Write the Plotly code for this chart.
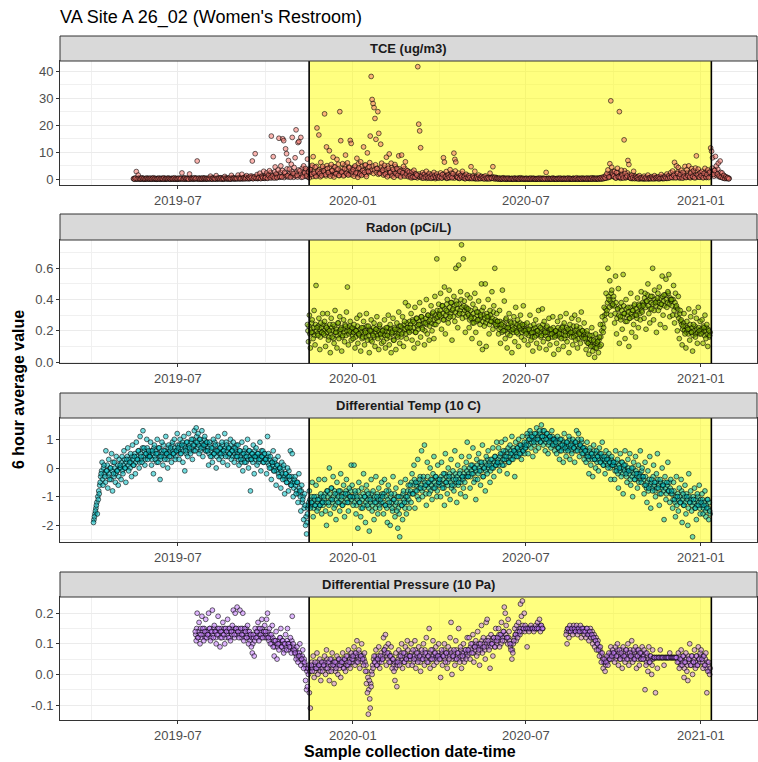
import pandas as pd
import plotly.graph_objects as go

# ---------------- data ----------------
title_text = "VA Site A 26_02 (Women's Restroom)"
panel_titles = ["TCE (ug/m3)", "Radon (pCi/L)", "Differential Temp (10 C)",
                "Differential Pressure (10 Pa)"]
x_tick_vals = ["2019-07-01", "2020-01-01", "2020-07-01", "2021-01-01"]
x_tick_text = ["2019-07", "2020-01", "2020-07", "2021-01"]
x_minor_vals = ["2019-04-01", "2019-10-01", "2020-04-01", "2020-10-01"]
shade_start = "2019-11-16"
shade_end = "2021-01-12"

# TCE, two readings per day from 2019-05-15 (morning / evening)
tce_start = "2019-05-15"
tce_am = [
    0.3, 0.1, 0.5, 2.9, 0.2, 1.6, 0.4, 0.1, 0.3, 0.6, 0.2, 0.4, 0.1, 0.3, 0.5, 0.2, 0.4,
    0.2, 0.5, 0.1, 0.3, 0.6, 0.2, 0.4, 0.1, 0.3, 0.2, 0.5, 0.1, 0.4, 0.3, 0.2, 0.6, 0.1, 0.3, 0.4, 0.2,
    0.5, 0.3, 0.1, 0.4, 0.2, 0.3, 0.6, 0.1, 0.4, 0.2,
    0.3, 0.5, 0.2, 0.4, 2.4, 0.1, 0.3, 0.6, 0.2, 0.4, 0.3, 0.1, 2.0, 0.5, 0.2, 0.4, 0.3, 0.6, 0.2, 0.4,
    6.8, 0.3, 0.5, 0.1, 0.4, 0.2, 0.6, 0.3, 0.5, 0.2, 0.4,
    0.2, 0.5, 0.3, 1.2, 0.4, 0.1, 0.6, 0.3, 0.2, 1.4, 0.4, 0.3, 0.5, 0.2, 0.6, 0.1, 0.4, 0.3, 1.1, 0.5,
    0.2, 0.4, 0.3, 0.6, 0.2, 1.5, 0.4, 0.3, 0.5, 0.2, 0.4,
    0.3, 1.6, 0.5, 0.2, 0.4, 1.9, 0.3, 0.6, 0.2, 0.5, 1.4, 0.3, 0.8, 0.4, 1.2, 0.6, 6.8, 0.3, 0.9, 9.5,
    0.5, 1.8, 0.4, 0.7, 2.3, 0.3, 1.1, 0.6, 3.0, 0.5,
    0.8, 2.4, 0.4, 1.5, 3.2, 0.6, 16.0, 1.2, 8.4, 0.5, 4.6, 2.0, 0.7, 3.5, 15.2, 1.1, 5.0, 0.9, 15.0, 14.3,
    2.6, 11.3, 9.5, 1.4, 7.0, 3.8, 0.8, 5.6, 15.5, 2.2, 4.4,
    8.0, 18.3, 1.5, 13.6, 14.0, 3.2, 15.5, 10.0, 0.9, 5.0, 2.4, 4.0, 1.3, 7.5, 2.8, 0.6, 3.6, 1.9, 5.2, 8.4,
    2.3, 4.5, 1.1, 19.0, 3.0, 16.4, 2.2, 6.3, 1.4, 4.8,
    3.1, 24.2, 1.8, 12.0, 4.0, 2.5, 10.6, 1.2, 5.5, 3.3, 8.2, 0.9, 4.6, 2.1, 7.4, 3.8, 1.5, 25.0, 14.3, 2.7,
    5.8, 1.3, 3.9, 9.0, 2.2, 6.1, 1.6, 4.3, 14.4, 13.3, 2.8,
    3.6, 1.2, 5.0, 2.4, 7.8, 0.8, 4.2, 2.0, 6.5, 1.5, 3.3, 12.0, 2.6, 5.4, 1.1, 9.8, 3.0, 4.7, 16.0, 38.0,
    29.5, 28.0, 26.5, 22.5, 14.8, 4.0, 25.0, 17.0, 2.2, 13.0, 6.0,
    3.4, 1.6, 5.2, 2.0, 8.2, 1.0, 4.1, 9.4, 2.5, 6.0, 1.3, 3.7, 0.8, 5.5, 2.2, 4.0, 1.5, 8.7, 3.0, 0.9,
    9.0, 2.4, 4.8, 1.2, 6.5, 2.0, 3.2, 1.0, 2.7,
    1.5, 0.6, 2.8, 1.0, 3.4, 0.8, 2.1, 1.6, 41.6, 20.4, 17.9, 11.7, 1.2, 2.5, 0.5, 1.9, 0.9, 3.0, 1.3, 0.6,
    2.2, 1.1, 0.4, 1.8, 0.8, 2.6, 1.4, 0.7, 2.0, 1.0, 0.5,
    1.2, 2.4, 0.6, 1.8, 8.0, 6.4, 1.0, 2.9, 0.5, 1.6, 0.8, 3.6, 1.3, 0.6, 2.1, 9.7, 7.4, 6.4, 1.1, 0.7,
    2.3, 0.4, 1.5, 0.9, 3.0, 0.6, 1.2, 0.3, 1.9, 0.8,
    0.5, 1.4, 0.7, 4.7, 0.3, 1.2, 0.6, 3.0, 0.4, 0.9, 0.2, 1.6, 0.5, 0.3, 1.1, 0.4, 0.8, 0.2, 1.3, 0.5,
    0.3, 0.7, 0.2, 2.3, 0.6, 0.4, 4.7, 0.3, 0.8, 0.2, 0.5,
    0.3, 0.2, 0.5, 0.1, 0.4, 0.2, 0.6, 0.3, 0.1, 0.4, 0.2, 0.5, 0.3, 0.1, 0.2, 0.4, 0.3, 0.1, 0.5, 0.2,
    0.3, 0.4, 0.1, 0.2, 0.6, 0.3, 0.2, 0.4, 0.1, 0.3,
    0.2, 0.4, 0.1, 0.3, 0.2, 0.5, 0.1, 0.3, 0.4, 0.2, 0.1, 0.3, 0.2, 0.4, 0.1, 0.5, 0.2, 0.3, 0.1, 0.4,
    0.2, 2.6, 0.3, 0.1, 0.4, 0.2, 0.3, 0.1, 0.5, 0.2, 0.3,
    0.2, 0.1, 0.4, 0.3, 0.2, 0.5, 0.1, 0.3, 0.2, 0.4, 0.1, 0.3, 0.2, 0.5, 0.1, 0.4, 0.3, 0.2, 0.1, 0.4,
    0.2, 0.3, 0.6, 0.1, 0.2, 0.4, 0.3, 0.1, 0.5, 0.2, 0.4,
    0.3, 0.2, 0.5, 0.1, 0.4, 0.3, 0.2, 0.6, 0.1, 0.4, 0.3, 0.2, 0.5, 0.3, 0.1, 0.4, 0.6, 0.2, 0.8, 0.3,
    1.0, 0.5, 1.6, 2.2, 3.5, 0.9, 5.8, 29.0, 4.5, 2.0,
    1.2, 3.0, 0.6, 2.5, 4.1, 1.0, 25.0, 0.8, 3.4, 1.5, 0.5, 14.6, 2.2, 0.7, 1.3, 7.0, 5.5, 0.9, 0.4, 1.6,
    0.6, 3.0, 0.3, 1.1, 0.5, 0.8, 0.2, 1.4, 0.4, 0.7, 0.3,
    0.5, 1.2, 0.3, 0.8, 0.2, 1.6, 0.4, 0.6, 0.3, 1.0, 0.5, 0.2, 1.4, 0.4, 0.7, 0.3, 0.9, 0.2, 0.5, 1.8,
    0.4, 0.6, 0.3, 1.1, 0.5, 2.0, 0.4, 1.3, 0.6, 2.5,
    0.8, 3.1, 1.5, 6.3, 0.6, 5.0, 2.2, 4.4, 0.9, 1.8, 3.4, 0.5, 2.6, 1.2, 4.8, 0.7, 3.6, 1.4, 5.0, 0.9,
    2.3, 4.0, 1.1, 3.2, 0.6, 4.2, 8.7, 1.7, 3.8, 0.8, 2.5,
    1.4, 3.0, 0.6, 2.2, 4.1, 0.9, 1.8, 3.5, 0.7, 2.6, 11.6, 10.4, 8.0, 1.9, 3.3, 8.5, 5.0, 2.0, 6.0, 1.2,
    6.8, 0.8, 2.4, 0.5, 1.5, 0.3, 1.0, 0.4, 0.7, 0.2,
]
tce_pm = [
    0.2, 0.4, 0.1, 0.3, 0.2, 0.5, 0.1, 0.3, 0.2, 0.4, 0.1, 0.2, 0.3, 0.1, 0.4, 0.2, 0.3,
    0.1, 0.3, 0.2, 0.4, 0.1, 0.3, 0.2, 0.1, 0.4, 0.2, 0.3, 0.1, 0.2, 0.4, 0.1, 0.3, 0.2, 0.1, 0.3, 0.4,
    0.2, 0.1, 0.3, 0.2, 0.4, 0.1, 0.2, 0.3, 0.1, 0.3,
    0.2, 0.1, 0.4, 0.2, 0.3, 0.5, 0.2, 0.1, 0.3, 0.2, 0.4, 0.2, 0.1, 0.3, 0.4, 0.2, 0.1, 0.3, 0.5, 0.2,
    0.3, 0.1, 0.4, 0.2, 0.3, 0.1, 0.2, 0.4, 0.1, 0.3, 0.2,
    0.3, 0.2, 0.4, 0.1, 0.3, 0.2, 0.5, 0.2, 0.3, 0.1, 0.4, 0.2, 0.3, 0.6, 0.2, 0.4, 0.1, 0.3, 0.2, 0.5,
    0.3, 0.2, 0.4, 0.1, 0.3, 0.2, 0.7, 0.3, 0.2, 0.4, 0.3,
    0.4, 0.2, 0.8, 0.3, 0.5, 0.2, 0.6, 0.4, 1.0, 0.3, 0.5, 0.7, 0.2, 0.6, 0.4, 1.2, 0.3, 0.5, 0.8, 0.4,
    1.1, 0.3, 0.6, 0.9, 0.4, 1.3, 0.5, 0.8, 0.4, 1.5,
    1.0, 0.5, 1.8, 0.7, 1.2, 2.5, 0.6, 1.5, 0.9, 2.8, 1.1, 0.6, 2.0, 1.3, 0.8, 2.6, 1.0, 3.3, 1.4, 0.7,
    2.1, 1.2, 3.9, 0.9, 1.6, 2.4, 1.1, 3.0, 1.4, 0.8, 2.2,
    1.3, 2.7, 0.9, 3.5, 1.6, 2.2, 0.8, 4.1, 1.8, 2.9, 1.2, 3.4, 2.0, 0.9, 3.8, 1.5, 2.6, 4.5, 1.1, 3.0,
    2.2, 1.4, 4.8, 2.5, 1.7, 3.6, 1.0, 2.8, 4.2, 1.9,
    2.4, 3.9, 1.3, 5.1, 2.7, 1.8, 4.4, 2.2, 3.1, 1.5, 4.7, 2.6, 1.9, 3.7, 2.3, 5.6, 1.4, 3.2, 2.0, 4.0,
    2.9, 1.6, 5.3, 2.5, 3.5, 1.8, 4.6, 2.1, 3.3, 1.7, 4.2,
    2.8, 4.5, 1.9, 3.6, 2.4, 5.8, 1.6, 3.9, 2.7, 4.8, 2.0, 3.4, 5.2, 1.8, 3.1, 4.4, 2.5, 6.2, 2.9, 3.7,
    4.9, 2.2, 3.5, 5.4, 2.6, 4.1, 1.9, 3.8, 2.4, 4.6, 3.0,
    2.6, 4.2, 1.8, 3.5, 2.3, 5.0, 1.5, 3.2, 2.8, 4.4, 1.9, 3.0, 2.4, 4.7, 1.6, 3.6, 2.1, 3.9, 1.3, 2.9,
    3.4, 1.7, 2.6, 4.0, 1.4, 2.2, 3.1, 1.2, 2.5,
    1.0, 1.8, 0.7, 1.4, 2.2, 0.9, 1.6, 0.6, 1.2, 2.0, 0.8, 1.5, 0.5, 1.1, 1.9, 0.7, 1.3, 0.4, 1.0, 1.7,
    0.6, 1.2, 0.9, 0.5, 1.4, 0.8, 0.3, 1.1, 0.6, 1.3, 0.7,
    0.9, 1.5, 0.5, 1.1, 2.0, 0.7, 1.3, 0.4, 1.8, 0.9, 0.6, 1.4, 2.4, 0.8, 1.2, 0.5, 3.1, 1.6, 0.7, 1.0,
    0.4, 1.3, 0.8, 2.0, 0.6, 1.1, 0.3, 0.9, 1.5, 0.5,
    0.6, 0.3, 0.9, 0.5, 1.2, 0.4, 0.7, 0.2, 1.0, 0.5, 0.8, 0.3, 0.6, 1.1, 0.4, 0.7, 0.3, 0.9, 0.5, 0.2,
    0.6, 0.4, 0.8, 0.3, 0.5, 1.0, 0.4, 0.6, 0.3, 0.7, 0.4,
    0.2, 0.4, 0.3, 0.1, 0.2, 0.5, 0.3, 0.2, 0.4, 0.1, 0.3, 0.2, 0.4, 0.2, 0.3, 0.1, 0.2, 0.4, 0.3, 0.1,
    0.2, 0.3, 0.5, 0.1, 0.2, 0.4, 0.3, 0.1, 0.2, 0.4,
    0.3, 0.1, 0.2, 0.4, 0.1, 0.3, 0.2, 0.4, 0.1, 0.3, 0.2, 0.1, 0.4, 0.2, 0.3, 0.1, 0.2, 0.4, 0.3, 0.1,
    0.2, 0.3, 0.1, 0.4, 0.2, 0.1, 0.3, 0.2, 0.4, 0.1, 0.2,
    0.3, 0.2, 0.1, 0.4, 0.2, 0.3, 0.1, 0.2, 0.4, 0.1, 0.3, 0.2, 0.4, 0.1, 0.3, 0.2, 0.1, 0.3, 0.4, 0.2,
    0.1, 0.3, 0.2, 0.4, 0.1, 0.3, 0.2, 0.4, 0.1, 0.3, 0.2,
    0.2, 0.4, 0.1, 0.3, 0.2, 0.4, 0.1, 0.3, 0.5, 0.2, 0.4, 0.1, 0.3, 0.2, 0.5, 0.3, 0.2, 0.4, 0.3, 0.6,
    0.4, 0.8, 0.5, 1.2, 0.7, 1.8, 1.0, 2.4, 1.3, 3.0,
    0.9, 1.8, 0.5, 1.3, 2.6, 0.7, 1.5, 0.4, 2.0, 0.8, 1.2, 3.2, 0.6, 1.0, 2.4, 0.9, 1.6, 0.5, 1.1, 0.3,
    0.8, 1.4, 0.4, 0.7, 0.3, 1.0, 0.5, 0.2, 0.6, 0.4, 0.3,
    0.3, 0.2, 0.5, 0.4, 0.6, 0.3, 0.2, 0.8, 0.4, 0.3, 0.7, 0.5, 0.3, 0.9, 0.4, 0.6, 0.3, 1.0, 0.4, 0.7,
    0.3, 1.2, 0.5, 0.8, 0.4, 0.9, 1.4, 0.6, 1.1, 0.8,
    1.2, 0.6, 2.1, 0.9, 1.5, 0.7, 2.8, 1.1, 0.5, 2.3, 0.9, 1.6, 0.6, 2.0, 1.2, 0.8, 2.5, 1.0, 1.7, 0.6,
    2.9, 1.3, 0.8, 2.2, 1.5, 0.7, 3.0, 1.1, 1.9, 0.9, 2.4,
    1.0, 2.0, 0.8, 1.6, 2.8, 0.7, 1.3, 2.4, 1.1, 3.0, 1.7, 4.2, 2.2, 1.2, 3.5, 2.5, 1.4, 3.8, 1.8, 0.9,
    2.6, 1.1, 0.7, 1.5, 0.5, 0.9, 0.4, 0.6, 0.3, 0.4,
]

# Radon, two readings per day from 2019-11-14
radon_start = "2019-11-14"
radon_am = [
    0.24, 0.13, 0.30, 0.09, 0.19, 0.27, 0.15, 0.33, 0.11, 0.49, 0.22, 0.17, 0.28, 0.08, 0.25, 0.19, 0.31,
    0.18, 0.26, 0.10, 0.22, 0.31, 0.14, 0.20, 0.06, 0.28, 0.16, 0.24, 0.12, 0.33, 0.19, 0.09, 0.25,
    0.15, 0.29, 0.21, 0.07, 0.17, 0.27, 0.13, 0.23, 0.32, 0.48, 0.11, 0.20, 0.26, 0.14, 0.22,
    0.15, 0.24, 0.09, 0.20, 0.28, 0.12, 0.18, 0.30, 0.07, 0.22, 0.16, 0.26, 0.11, 0.19, 0.31, 0.14,
    0.23, 0.06, 0.20, 0.27, 0.13, 0.17, 0.25, 0.10, 0.21, 0.29, 0.15, 0.08, 0.24, 0.18, 0.12,
    0.20, 0.13, 0.27, 0.09, 0.22, 0.17, 0.30, 0.11, 0.24, 0.06, 0.19, 0.28, 0.14, 0.21, 0.08, 0.25,
    0.16, 0.32, 0.12, 0.23, 0.18, 0.29, 0.10, 0.26, 0.38, 0.15, 0.22, 0.36, 0.19,
    0.22, 0.31, 0.14, 0.26, 0.09, 0.35, 0.19, 0.28, 0.12, 0.24, 0.38, 0.16, 0.29, 0.21, 0.33, 0.11,
    0.25, 0.40, 0.18, 0.30, 0.14, 0.27, 0.36, 0.20, 0.32, 0.15, 0.42, 0.24, 0.66, 0.29, 0.37,
    0.30, 0.44, 0.21, 0.36, 0.27, 0.48, 0.18, 0.33, 0.40, 0.25, 0.46, 0.29, 0.38, 0.14, 0.34, 0.42,
    0.26, 0.60, 0.37, 0.22, 0.62, 0.31, 0.45, 0.75, 0.28, 0.66, 0.39, 0.19, 0.35, 0.43,
    0.34, 0.22, 0.41, 0.28, 0.15, 0.37, 0.25, 0.44, 0.19, 0.32, 0.27, 0.39, 0.12, 0.30, 0.50, 0.08,
    0.35, 0.23, 0.50, 0.10, 0.29, 0.40, 0.18, 0.33, 0.26, 0.45, 0.21, 0.36, 0.60, 0.24, 0.31,
    0.26, 0.18, 0.33, 0.12, 0.24, 0.46, 0.20, 0.39, 0.15, 0.28, 0.09, 0.22, 0.31, 0.17, 0.25, 0.06,
    0.21, 0.29, 0.13, 0.35, 0.19, 0.27, 0.10, 0.23, 0.30, 0.16, 0.24, 0.36, 0.14, 0.20,
    0.18, 0.25, 0.11, 0.21, 0.30, 0.14, 0.19, 0.07, 0.24, 0.16, 0.27, 0.12, 0.20, 0.33, 0.09, 0.22,
    0.17, 0.34, 0.13, 0.26, 0.19, 0.08, 0.23, 0.15, 0.28, 0.11, 0.21, 0.18, 0.29, 0.05, 0.16,
    0.20, 0.12, 0.26, 0.08, 0.18, 0.29, 0.15, 0.22, 0.10, 0.25, 0.17, 0.31, 0.13, 0.21, 0.06, 0.24,
    0.19, 0.28, 0.11, 0.16, 0.30, 0.14, 0.23, 0.09, 0.27, 0.18, 0.12, 0.32, 0.20, 0.15, 0.25,
    0.15, 0.08, 0.20, 0.12, 0.05, 0.17, 0.10, 0.22, 0.07, 0.14, 0.03, 0.18, 0.09, 0.13, 0.06, 0.16,
    0.24, 0.11, 0.29, 0.19, 0.35, 0.27, 0.44, 0.33, 0.60, 0.40, 0.52, 0.30, 0.46, 0.37,
    0.42, 0.25, 0.55, 0.18, 0.34, 0.47, 0.12, 0.29, 0.38, 0.21, 0.56, 0.31, 0.15, 0.40, 0.26, 0.35,
    0.10, 0.28, 0.44, 0.19, 0.33, 0.24, 0.37, 0.16, 0.30, 0.41, 0.22, 0.36, 0.27, 0.45, 0.32,
    0.36, 0.28, 0.44, 0.21, 0.39, 0.50, 0.31, 0.25, 0.42, 0.34, 0.60, 0.27, 0.46, 0.38, 0.19, 0.41,
    0.33, 0.48, 0.24, 0.37, 0.55, 0.30, 0.43, 0.22, 0.53, 0.35, 0.45, 0.56, 0.29, 0.40,
    0.40, 0.30, 0.49, 0.25, 0.44, 0.36, 0.20, 0.42, 0.15, 0.33, 0.27, 0.11, 0.23, 0.31, 0.18, 0.09,
    0.26, 0.21, 0.34, 0.14, 0.29, 0.19, 0.07, 0.24, 0.32, 0.16, 0.28, 0.12, 0.35, 0.20, 0.26,
    0.18, 0.27, 0.12, 0.22, 0.30, 0.15, 0.24, 0.10, 0.20, 0.17,
]
radon_pm = [
    0.20, 0.23, 0.18, 0.21, 0.25, 0.19, 0.22, 0.17, 0.24, 0.20, 0.18, 0.23, 0.21, 0.16, 0.22, 0.19, 0.24,
    0.20, 0.17, 0.23, 0.19, 0.21, 0.16, 0.24, 0.18, 0.22, 0.20, 0.15, 0.23, 0.19, 0.21, 0.17, 0.25,
    0.20, 0.18, 0.22, 0.16, 0.21, 0.19, 0.24, 0.17, 0.20, 0.22, 0.18, 0.23, 0.19, 0.21, 0.17,
    0.19, 0.21, 0.16, 0.20, 0.23, 0.18, 0.17, 0.21, 0.19, 0.15, 0.22, 0.18, 0.20, 0.16, 0.23, 0.19,
    0.17, 0.21, 0.14, 0.20, 0.18, 0.22, 0.16, 0.19, 0.21, 0.17, 0.20, 0.23, 0.18, 0.16, 0.20,
    0.18, 0.21, 0.17, 0.20, 0.15, 0.22, 0.19, 0.16, 0.21, 0.18, 0.20, 0.14, 0.22, 0.19, 0.17, 0.21,
    0.18, 0.23, 0.20, 0.16, 0.22, 0.19, 0.24, 0.21, 0.18, 0.25, 0.22, 0.20, 0.26,
    0.24, 0.20, 0.27, 0.22, 0.25, 0.19, 0.28, 0.23, 0.21, 0.26, 0.24, 0.29, 0.22, 0.27, 0.25, 0.20,
    0.28, 0.24, 0.30, 0.26, 0.23, 0.29, 0.25, 0.31, 0.27, 0.24, 0.30, 0.28, 0.33, 0.26, 0.31,
    0.33, 0.29, 0.36, 0.31, 0.27, 0.34, 0.30, 0.37, 0.32, 0.28, 0.35, 0.31, 0.38, 0.33, 0.29, 0.36,
    0.32, 0.39, 0.34, 0.30, 0.37, 0.33, 0.40, 0.35, 0.31, 0.36, 0.33, 0.29, 0.34, 0.31,
    0.30, 0.27, 0.33, 0.29, 0.25, 0.31, 0.28, 0.34, 0.26, 0.30, 0.32, 0.27, 0.24, 0.29, 0.33, 0.26,
    0.30, 0.28, 0.25, 0.31, 0.27, 0.29, 0.24, 0.30, 0.26, 0.28, 0.32, 0.25, 0.27, 0.23, 0.26,
    0.24, 0.21, 0.26, 0.22, 0.19, 0.25, 0.23, 0.20, 0.27, 0.22, 0.18, 0.24, 0.21, 0.26, 0.20, 0.23,
    0.19, 0.25, 0.22, 0.20, 0.24, 0.18, 0.22, 0.25, 0.21, 0.19, 0.23, 0.20, 0.24, 0.21,
    0.19, 0.21, 0.17, 0.20, 0.23, 0.18, 0.16, 0.21, 0.19, 0.22, 0.17, 0.20, 0.18, 0.23, 0.19, 0.16,
    0.21, 0.24, 0.18, 0.20, 0.17, 0.22, 0.19, 0.15, 0.21, 0.18, 0.20, 0.16, 0.22, 0.19, 0.17,
    0.20, 0.17, 0.22, 0.19, 0.16, 0.21, 0.18, 0.23, 0.20, 0.15, 0.19, 0.22, 0.17, 0.20, 0.18, 0.21,
    0.16, 0.19, 0.23, 0.18, 0.20, 0.17, 0.21, 0.15, 0.19, 0.22, 0.18, 0.16, 0.20, 0.17, 0.19,
    0.16, 0.13, 0.18, 0.12, 0.15, 0.11, 0.14, 0.17, 0.10, 0.13, 0.09, 0.12, 0.15, 0.11, 0.14, 0.10,
    0.16, 0.20, 0.24, 0.22, 0.30, 0.34, 0.31, 0.38, 0.42, 0.35, 0.39, 0.44, 0.36, 0.40,
    0.36, 0.31, 0.38, 0.28, 0.34, 0.30, 0.35, 0.27, 0.33, 0.29, 0.36, 0.31, 0.26, 0.34, 0.30, 0.32,
    0.28, 0.35, 0.31, 0.29, 0.33, 0.36, 0.30, 0.34, 0.28, 0.32, 0.37, 0.31, 0.35, 0.33, 0.38,
    0.37, 0.41, 0.35, 0.39, 0.43, 0.36, 0.40, 0.34, 0.38, 0.42, 0.37, 0.33, 0.40, 0.36, 0.39, 0.44,
    0.38, 0.35, 0.41, 0.37, 0.42, 0.39, 0.36, 0.43, 0.40, 0.38, 0.44, 0.37, 0.41, 0.39,
    0.36, 0.40, 0.33, 0.38, 0.35, 0.30, 0.34, 0.28, 0.31, 0.26, 0.24, 0.21, 0.25, 0.20, 0.23, 0.19,
    0.22, 0.18, 0.21, 0.24, 0.19, 0.22, 0.17, 0.20, 0.23, 0.18, 0.21, 0.19, 0.22, 0.18, 0.20,
    0.21, 0.19, 0.23, 0.17, 0.20, 0.22, 0.18, 0.21, 0.16, 0.19,
]

# Differential temperature, two readings per day from 2019-04-03
temp_start = "2019-04-03"
temp_am = [
    -1.9, -1.7, -1.5, -1.3, -1.6, -1.1, -0.9, -0.5, -0.2, 0.2, -0.6, 0.1, -0.3, 0.6, -0.1, -0.7,
    0.3, -0.4, 0.0, 0.5, -0.8, -0.2, 0.2, -0.5, 0.4, -0.1, -0.6, 0.3,
    0.1, -0.4, 0.4, -0.2, 0.6, 0.0, -0.5, 0.3, 0.7, -0.1, 0.2, 0.5, -0.3, 0.8, 0.1, 0.4,
    -0.2, 0.9, 0.3, 0.6, 0.0, 1.1, 0.4, 0.2, 1.3, 0.7, 0.1, 0.5, 1.0, 0.3, 0.6,
    0.4, 0.9, 0.1, 0.6, -0.2, 0.8, 0.3, 0.5, 1.0, 0.2, 0.7, -0.4, 0.4, 0.9, 0.1,
    0.6, 0.3, 1.1, 0.5, 0.0, 0.8, 0.4, 0.7, 0.2, 0.9, 0.5, 1.0, 0.3, 0.6, 1.2,
    0.7, 0.3, 1.0, 0.5, 0.8, 0.2, 1.1, -0.1, 0.6, 0.9, 0.4, 1.2, 0.7, 0.5, 1.0, 0.3,
    0.8, 1.3, 0.6, 1.4, 0.9, 1.2, 0.5, 1.0, 0.7, 1.3, 0.4, 0.8, 1.1, 0.6, 0.9,
    0.6, 0.1, 0.9, 0.4, 0.7, 0.2, 1.0, 0.5, 0.8, 0.0, 0.6, 1.1, 0.3, 0.7, 0.5, 0.9,
    0.2, 0.6, 1.2, 0.4, 0.8, 0.1, 0.7, 0.5, 1.0, 0.3, 0.6, 0.9, 0.2, 0.7, 0.4,
    0.4, 0.8, 0.1, 0.6, 0.3, 0.9, -0.1, 0.5, 0.2, 0.7, 0.4, 1.0, 0.0, 0.6, -0.8,
    0.3, 0.5, 0.8, -0.2, 0.4, 0.7, 0.1, 0.5, 0.3, 0.9, -0.1, 0.4, 0.6, 0.2, 0.5,
    0.3, -0.2, 1.1, 0.5, 0.0, 0.4, -0.4, 0.2, 0.6, -0.1, 0.3, -0.6, 0.1, 0.4, -0.3, 0.0,
    -0.7, 0.2, -0.4, 0.1, -0.9, -0.2, -0.5, 0.0, -0.8, -0.3, 0.6, -0.6, 0.5, -1.0, -0.4,
    -0.3, -0.9, -0.5, -1.2, -0.2, -0.8, -1.5, -0.6, -1.1, -1.8, -0.9, -2.0, -2.3, -1.6, -1.3,
    -0.8, -1.4, -1.2, -0.5, -1.7, -1.0, -1.3, -0.6, -1.5, -1.1, -0.4, -1.3, -0.9, -1.6, -1.2,
    -1.0, -0.4, -1.5, -2.0, -0.8, -1.2, 0.0, -1.6, -0.7, -1.1, -0.3, -1.4, -0.9, -1.8, -0.5, -1.2,
    -0.8, -1.5, -0.2, -1.0, -1.3, -0.6, -1.7, -0.9, -0.4, -1.2, -1.5, -0.7, -1.0, 0.1, -0.6,
    -1.3, 0.1, -0.8, -1.6, -1.0, -2.1, -0.5, -1.2, -1.7, -0.7, -1.4, -0.2, -1.0, -1.9, -0.6, -1.3,
    -0.9, -2.2, -1.1, -0.4, -1.5, -0.8, -1.8, -1.2, -0.3, -1.0, -1.6, -0.7, -1.4, -1.1, -0.5,
    -1.0, -1.6, -0.4, -1.3, -0.8, -1.9, -0.6, -1.2, -2.0, -0.9, -1.4, -0.3, -1.1, -1.7, -0.7,
    -1.5, -2.1, -1.0, -2.4, -0.5, -1.3, -1.8, -0.8, -1.2, -0.4, -1.6, -1.0, -0.6, -1.4,
    -0.6, -1.2, -0.2, -0.9, 0.1, -1.4, -0.5, -0.8, 0.3, -1.1, -0.4, -0.7, 0.6, -1.0, -0.3, 0.8,
    -0.6, -1.3, 0.2, -0.5, -0.9, 0.0, -0.4, -1.1, -0.2, 0.4, -0.7, -0.3, -1.0, 0.1, -0.5,
    -0.4, -1.0, 0.2, -0.7, -0.2, -1.3, 0.5, -0.5, -0.9, 0.0, -0.3, -1.1, 0.3, -0.6, -0.1,
    -0.8, 0.6, -0.4, -1.2, 0.1, -0.5, -0.2, -0.9, 0.4, -0.3, -0.7, 0.0, -1.0, 0.2, 0.9,
    -0.3, 0.4, -0.7, 0.1, -0.2, 0.7, -0.5, 0.0, -1.1, 0.3, -0.4, 0.5, -0.1, -0.6, 0.2, 0.8,
    -0.3, 0.0, -0.8, 0.4, -0.2, 0.6, 0.1, -0.5, 0.3, 0.0, 0.7, -0.3, 0.4, 0.1, 0.9,
    0.2, 0.7, -0.1, 0.5, 0.9, 0.1, 0.6, 0.3, 1.0, 0.4, -0.2, 0.7, 0.2, 0.8, 0.5,
    1.1, 0.3, 0.6, -0.3, 0.9, 0.4, 0.7, 1.0, 0.5, 0.8, 0.3, 1.1, 0.6, 0.9, 0.7,
    0.8, 1.2, 0.5, 1.0, 1.3, 0.7, 1.1, 0.4, 0.9, 1.2, 0.6, 1.4, 1.0, 0.7, 1.3, 0.9,
    1.5, 1.1, 0.8, 1.3, 0.6, 1.0, 1.2, 0.5, 0.9, 1.1, 0.7, 1.3, 0.8, 1.0, 0.6,
    0.9, 0.5, 1.1, 0.7, 0.3, 1.0, 0.6, 0.8, 0.2, 1.2, 0.7, 0.4, 0.9, 0.6, 1.1, 0.3,
    0.8, 0.5, 1.0, 0.7, 0.2, 0.9, 1.3, 0.6, 1.2, 0.4, 0.8, 1.0, 0.5, 0.7, 0.3,
    0.6, 0.2, 0.9, 0.4, -0.2, 0.7, 0.1, 0.5, -0.3, 0.8, 0.3, 0.0, 0.6, 0.4, -0.1,
    0.7, 0.2, 0.5, 0.9, 0.1, 0.4, -0.2, 0.6, 0.3, 0.0, 0.5, 0.2, -0.4, 0.4, 0.1,
    0.2, -0.4, 0.6, -0.1, 0.3, -0.7, 0.0, 0.5, -0.3, 0.2, -0.9, 0.1, 0.6, -0.2, -0.5, 0.3,
    -0.1, 0.5, -0.6, 0.0, -1.0, 0.2, -0.4, 0.4, -0.2, -0.7, 0.1, -0.3, 0.6, -0.5, 0.0,
    -0.3, -0.9, 0.2, -0.6, -1.2, -0.1, -0.7, 0.4, -1.4, -0.4, -0.8, 0.1, -0.5, -1.0, -0.2,
    0.5, -0.7, -1.3, -0.4, -0.9, 0.0, -0.6, -1.8, -0.3, -1.1, -0.5, 0.2, -0.8, -1.2, -0.4,
    -0.8, -1.4, -0.5, -1.1, -1.7, -0.3, -1.0, -1.5, -0.7, -1.2, -0.4, -1.9, -0.9, -1.3, -0.6, -1.6,
    -1.0, -2.0, -0.2, -1.2, -0.8, -1.5, -2.4, -1.1, -0.7, -1.4, -1.8, -0.9, -1.3, -0.6, -1.6,
    -1.2, -0.9, -1.6, -1.3, -0.8, -1.7, -1.4, -1.1, -1.8, -1.5,
]
temp_pm = [
    -1.8, -1.6, -1.4, -1.2, -1.0, -0.8, -0.6, -0.3, -0.1, -0.4, 0.0, -0.2, -0.5, -0.1, 0.1, -0.3,
    -0.2, 0.0, -0.4, -0.1, 0.2, -0.3, 0.0, -0.2, -0.1, 0.1, -0.3, 0.0,
    0.0, 0.2, -0.1, 0.1, 0.3, 0.0, 0.2, 0.4, 0.1, 0.3, 0.0, 0.2, 0.4, 0.3, 0.1, 0.5,
    0.2, 0.4, 0.3, 0.6, 0.2, 0.5, 0.3, 0.7, 0.4, 0.6, 0.3, 0.5, 0.7, 0.4, 0.5,
    0.4, 0.6, 0.3, 0.5, 0.7, 0.4, 0.6, 0.2, 0.5, 0.7, 0.4, 0.3, 0.6, 0.5, 0.8,
    0.4, 0.6, 0.5, 0.3, 0.7, 0.5, 0.6, 0.4, 0.8, 0.6, 0.5, 0.7, 0.4, 0.6, 0.8,
    0.6, 0.8, 0.5, 0.7, 0.9, 0.6, 0.8, 0.7, 0.5, 0.9, 0.7, 0.8, 0.6, 0.9, 0.7, 1.0,
    0.6, 0.8, 0.9, 1.1, 0.7, 0.8, 1.0, 0.6, 0.9, 0.8, 0.7, 1.0, 0.8, 0.6, 0.9,
    0.7, 0.5, 0.8, 0.6, 0.4, 0.7, 0.5, 0.9, 0.6, 0.4, 0.8, 0.6, 0.5, 0.7, 0.4, 0.8,
    0.6, 0.5, 0.7, 0.9, 0.6, 0.4, 0.7, 0.5, 0.8, 0.6, 0.4, 0.7, 0.5, 0.6, 0.8,
    0.5, 0.3, 0.6, 0.4, 0.2, 0.5, 0.3, 0.6, 0.4, 0.2, 0.5, 0.3, 0.6, 0.4, 0.3,
    0.5, 0.2, 0.4, 0.6, 0.3, 0.4, 0.5, 0.2, 0.4, 0.3, 0.6, 0.4, 0.2, 0.5, 0.3,
    0.3, 0.2, 0.4, 0.1, 0.3, 0.0, 0.2, 0.1, -0.1, 0.2, 0.0, -0.1, 0.1, -0.2, 0.0, -0.3,
    -0.1, -0.2, 0.0, -0.3, -0.4, -0.2, -0.5, -0.3, -0.1, -0.4, -0.6, -0.3, -0.5, -0.7, -0.5,
    -0.6, -0.8, -0.5, -0.9, -0.7, -1.0, -0.8, -1.2, -1.0, -1.4, -1.3, -1.7, -1.9, -1.4, -1.2,
    -1.1, -1.3, -1.0, -1.2, -1.4, -1.1, -1.3, -1.0, -1.2, -1.4, -1.1, -1.3, -1.0, -1.2, -1.3,
    -1.1, -0.9, -1.2, -0.8, -1.0, -1.3, -0.9, -1.1, -0.7, -1.2, -1.0, -0.8, -1.3, -1.1, -0.9, -1.0,
    -1.2, -0.8, -1.1, -1.3, -0.9, -1.0, -1.2, -0.8, -1.1, -0.9, -1.2, -1.0, -0.8, -1.1, -1.0,
    -1.0, -1.2, -0.9, -1.3, -1.1, -0.8, -1.2, -1.0, -1.4, -1.1, -0.9, -1.3, -1.0, -1.2, -0.8, -1.1,
    -1.4, -1.0, -1.2, -0.9, -1.3, -1.1, -1.0, -1.4, -1.2, -0.9, -1.1, -1.3, -1.0, -1.2, -0.9,
    -1.2, -0.9, -1.3, -1.0, -1.4, -1.1, -0.8, -1.3, -1.0, -1.2, -1.5, -1.1, -0.9, -1.3, -1.2,
    -1.0, -1.4, -1.6, -1.2, -1.0, -1.3, -0.9, -1.1, -1.4, -1.0, -1.2, -0.8, -1.1, -0.9,
    -0.8, -0.5, -0.9, -0.6, -0.4, -0.8, -0.6, -1.0, -0.5, -0.7, -0.3, -0.6, -0.8, -0.4, -0.7, -0.5,
    -0.9, -0.6, -0.3, -0.7, -0.5, -0.8, -0.6, -0.4, -0.7, -0.5, -0.3, -0.6, -0.8, -0.4, -0.6,
    -0.5, -0.3, -0.6, -0.4, -0.7, -0.2, -0.5, -0.3, -0.6, -0.4, -0.2, -0.5, -0.7, -0.3, -0.4,
    -0.6, -0.2, -0.5, -0.3, -0.6, -0.4, -0.1, -0.5, -0.3, -0.4, -0.2, -0.5, -0.3, -0.1, -0.3,
    -0.2, 0.0, -0.3, -0.1, 0.1, -0.2, 0.0, -0.4, -0.1, 0.1, -0.2, 0.0, 0.2, -0.1, 0.1, -0.3,
    0.0, 0.2, -0.1, 0.1, 0.3, 0.0, 0.2, -0.1, 0.1, 0.3, 0.0, 0.2, 0.4, 0.1, 0.2,
    0.3, 0.1, 0.4, 0.2, 0.5, 0.3, 0.1, 0.4, 0.6, 0.3, 0.5, 0.2, 0.4, 0.6, 0.3,
    0.5, 0.7, 0.4, 0.6, 0.5, 0.7, 0.4, 0.6, 0.8, 0.5, 0.7, 0.6, 0.8, 0.5, 0.7,
    0.9, 1.1, 0.8, 1.0, 1.2, 0.9, 1.0, 1.1, 0.8, 1.0, 1.2, 0.9, 1.1, 1.0, 1.2, 0.9,
    1.1, 1.3, 1.0, 1.1, 0.9, 1.2, 1.0, 0.8, 1.1, 1.0, 0.9, 1.1, 1.0, 0.8, 1.0,
    0.8, 1.0, 0.7, 0.9, 0.6, 0.8, 1.0, 0.7, 0.9, 0.8, 0.6, 0.9, 0.7, 0.8, 1.0, 0.7,
    0.6, 0.9, 0.8, 0.7, 0.9, 0.6, 0.8, 1.0, 0.7, 0.8, 0.6, 0.9, 0.7, 0.5, 0.7,
    0.6, 0.4, 0.5, 0.3, 0.6, 0.4, 0.5, 0.3, 0.4, 0.6, 0.3, 0.5, 0.2, 0.4, 0.3,
    0.5, 0.2, 0.4, 0.3, 0.1, 0.3, 0.2, 0.4, 0.1, 0.3, 0.2, 0.0, 0.3, 0.1, 0.2,
    0.1, -0.1, 0.2, 0.0, -0.2, 0.1, -0.1, 0.0, 0.2, -0.2, 0.0, -0.1, 0.1, -0.3, -0.1, 0.0,
    -0.2, -0.4, -0.1, -0.3, 0.0, -0.2, -0.4, -0.1, -0.3, -0.2, -0.5, -0.2, -0.4, -0.1, -0.3,
    -0.4, -0.6, -0.3, -0.7, -0.5, -0.8, -0.4, -0.6, -0.5, -0.7, -0.3, -0.6, -0.8, -0.5, -0.7,
    -0.4, -0.6, -0.9, -0.5, -0.7, -0.6, -0.8, -0.5, -0.7, -0.9, -0.6, -0.8, -0.5, -0.7, -0.9,
    -0.9, -1.1, -0.8, -1.2, -1.0, -1.3, -0.9, -1.1, -1.0, -1.2, -0.8, -1.1, -1.3, -1.0, -1.2, -0.9,
    -1.1, -1.4, -1.0, -1.2, -1.1, -1.3, -1.0, -1.2, -1.4, -1.1, -1.3, -1.0, -1.2, -1.4, -1.1,
    -1.3, -1.1, -1.4, -1.2, -1.5, -1.3, -1.1, -1.4, -1.2, -1.6,
]

# Differential pressure, two readings per day, two recorded stretches
press1_start = "2019-07-19"
press1_am = [
    0.14, 0.11, 0.20, 0.12, 0.17, 0.10, 0.13, 0.19, 0.15, 0.11, 0.14, 0.18, 0.12,
    0.13, 0.20, 0.15, 0.11, 0.14, 0.21, 0.12, 0.16, 0.14, 0.10, 0.13, 0.19, 0.15, 0.09, 0.14, 0.12,
    0.17, 0.13, 0.10, 0.15, 0.14, 0.18, 0.12, 0.15, 0.11, 0.14, 0.16, 0.21, 0.13, 0.20, 0.15,
    0.22, 0.14, 0.12, 0.21, 0.15, 0.13, 0.20, 0.11, 0.15, 0.14, 0.12, 0.16, 0.10, 0.14, 0.13,
    0.09, 0.07, 0.13, 0.06, 0.15, 0.12, 0.14, 0.17, 0.11, 0.15, 0.13, 0.18, 0.12, 0.14, 0.16,
    0.14, 0.18, 0.20, 0.12, 0.15, 0.10, 0.13, 0.16, 0.09, 0.06, 0.11, 0.14, 0.05, 0.10, 0.08, 0.12,
    0.15, 0.09, 0.11, 0.07, 0.10, 0.13, 0.08, 0.15, 0.10, 0.09, 0.12, 0.07, 0.19, 0.10, 0.08,
    0.07, 0.05, 0.09, 0.04, 0.06, 0.10, 0.03, 0.05, 0.08, 0.02, 0.04, -0.02, -0.05, -0.04, 0.00,
    -0.06, -0.11, 0.03, 0.01, 0.06, -0.01, 0.04, 0.02, 0.07, 0.00, 0.03, 0.05, -0.02, 0.04, 0.01,
    0.03, 0.06, 0.00, 0.08, 0.02, 0.04, -0.02, 0.05, 0.01, 0.07, 0.03, -0.03, 0.04, 0.02, 0.06, 0.00,
    0.05, 0.03, -0.01, 0.04, 0.07, 0.02, 0.05, 0.01, 0.06, 0.03, 0.08, 0.04, 0.02, 0.07, 0.05,
    0.06, 0.09, 0.03, 0.07, 0.11, 0.04, 0.08, 0.02, 0.06, 0.10, 0.05, 0.03, 0.07, 0.01, -0.03, -0.06,
    -0.13, -0.02, -0.11, -0.04, 0.00, 0.02, 0.06, 0.04, 0.08, 0.03, 0.05, 0.09, 0.02, 0.06, 0.04,
    0.05, 0.12, 0.08, 0.13, 0.03, 0.07, 0.10, 0.04, 0.06, 0.09, 0.02, 0.05, 0.01, -0.02, 0.07,
    -0.04, 0.04, 0.08, 0.03, 0.06, 0.10, 0.02, 0.07, 0.04, 0.09, 0.05, 0.11, 0.03, 0.06,
    0.06, 0.10, 0.03, 0.08, 0.05, 0.11, 0.02, 0.07, 0.04, 0.09, 0.06, 0.01, 0.08, 0.05, 0.10, 0.03,
    0.07, 0.12, 0.04, 0.06, 0.15, 0.02, 0.08, 0.05, 0.11, 0.03, 0.07, 0.09, 0.04, 0.06, 0.10,
    0.05, -0.01, 0.08, 0.03, 0.06, 0.10, 0.04, 0.07, 0.02, 0.09, 0.05, 0.12, 0.17, 0.00, 0.06,
    0.08, 0.03, 0.11, 0.05, 0.07, 0.15, 0.04, 0.09, 0.02, 0.06, 0.10, 0.04, 0.08, 0.05, 0.12,
    0.08, 0.12, 0.05, 0.10, 0.07, 0.13, 0.04, 0.09, 0.11, 0.06, 0.14, 0.08, 0.03, 0.10, 0.16, 0.07,
    0.12, 0.09, 0.05, 0.17, 0.18, 0.11, 0.08, 0.02, 0.13, 0.10, 0.06, 0.12, 0.09, 0.15, 0.11,
    0.12, 0.15, 0.09, 0.13, 0.17, 0.11, 0.14, 0.22, 0.20, 0.16, 0.12, 0.18, 0.14, 0.10, 0.08,
    0.05, 0.07, 0.11, 0.15, 0.13, 0.16, 0.12, 0.17, 0.14, 0.23, 0.19, 0.24, 0.15, 0.20, 0.16,
    0.15, 0.09, 0.15, 0.14, 0.15, 0.16, 0.15, 0.15, 0.14, 0.15, 0.16, 0.15, 0.17, 0.15, 0.18, 0.14,
    0.16, 0.15,
]
press1_pm = [
    0.13, 0.15, 0.12, 0.14, 0.13, 0.15, 0.12, 0.14, 0.13, 0.15, 0.12, 0.14, 0.13,
    0.14, 0.13, 0.15, 0.12, 0.14, 0.13, 0.15, 0.14, 0.12, 0.14, 0.15, 0.13, 0.14, 0.12, 0.15, 0.14,
    0.13, 0.15, 0.12, 0.14, 0.13, 0.15, 0.14, 0.12, 0.14, 0.13, 0.15, 0.14, 0.12, 0.15, 0.13,
    0.14, 0.15, 0.13, 0.14, 0.12, 0.15, 0.13, 0.14, 0.12, 0.15, 0.13, 0.14, 0.12, 0.11, 0.13,
    0.12, 0.10, 0.12, 0.11, 0.13, 0.14, 0.12, 0.15, 0.13, 0.14, 0.12, 0.15, 0.13, 0.14, 0.12,
    0.13, 0.12, 0.14, 0.11, 0.13, 0.12, 0.10, 0.12, 0.11, 0.09, 0.11, 0.10, 0.09, 0.11, 0.10, 0.12,
    0.09, 0.11, 0.10, 0.08, 0.10, 0.09, 0.11, 0.10, 0.08, 0.10, 0.09, 0.11, 0.08, 0.09, 0.07,
    0.08, 0.06, 0.07, 0.05, 0.07, 0.06, 0.05, 0.06, 0.04, 0.05, 0.03, 0.02, 0.01, 0.02, 0.03,
    0.01, 0.02, 0.04, 0.02, 0.03, 0.01, 0.03, 0.02, 0.04, 0.02, 0.03, 0.01, 0.03, 0.02, 0.04,
    0.03, 0.04, 0.02, 0.05, 0.03, 0.01, 0.04, 0.03, 0.05, 0.02, 0.04, 0.03, 0.01, 0.04, 0.03, 0.05,
    0.02, 0.04, 0.03, 0.05, 0.04, 0.02, 0.05, 0.03, 0.04, 0.06, 0.03, 0.05, 0.04, 0.06, 0.04,
    0.05, 0.07, 0.06, 0.04, 0.06, 0.05, 0.07, 0.05, 0.06, 0.04, 0.06, 0.05, 0.04, 0.03, 0.01, -0.01,
    -0.05, -0.08, -0.03, 0.01, 0.03, 0.05, 0.04, 0.06, 0.05, 0.03, 0.06, 0.04, 0.05, 0.07, 0.05,
    0.06, 0.08, 0.07, 0.09, 0.06, 0.05, 0.07, 0.06, 0.04, 0.06, 0.05, 0.03, 0.04, 0.02, 0.04,
    0.03, 0.05, 0.06, 0.04, 0.07, 0.05, 0.06, 0.04, 0.07, 0.05, 0.06, 0.08, 0.05, 0.06,
    0.05, 0.07, 0.06, 0.04, 0.06, 0.08, 0.05, 0.06, 0.07, 0.05, 0.04, 0.06, 0.07, 0.05, 0.06, 0.08,
    0.05, 0.07, 0.06, 0.04, 0.07, 0.05, 0.06, 0.08, 0.06, 0.05, 0.07, 0.06, 0.05, 0.07, 0.06,
    0.06, 0.05, 0.07, 0.06, 0.08, 0.05, 0.07, 0.06, 0.04, 0.07, 0.06, 0.08, 0.07, 0.05, 0.06,
    0.07, 0.05, 0.08, 0.06, 0.07, 0.05, 0.06, 0.08, 0.07, 0.05, 0.07, 0.06, 0.08, 0.07, 0.06,
    0.08, 0.07, 0.09, 0.08, 0.10, 0.07, 0.09, 0.08, 0.10, 0.09, 0.07, 0.10, 0.09, 0.08, 0.11, 0.09,
    0.10, 0.08, 0.11, 0.10, 0.09, 0.12, 0.10, 0.09, 0.11, 0.10, 0.12, 0.11, 0.09, 0.12, 0.10,
    0.11, 0.13, 0.12, 0.10, 0.13, 0.12, 0.14, 0.11, 0.13, 0.12, 0.10, 0.12, 0.11, 0.09, 0.10,
    0.08, 0.10, 0.12, 0.13, 0.11, 0.14, 0.13, 0.15, 0.13, 0.15, 0.14, 0.16, 0.15, 0.14, 0.15,
    0.15, 0.15, 0.15, 0.15, 0.15, 0.15, 0.15, 0.15, 0.15, 0.15, 0.15, 0.15, 0.15, 0.16, 0.15, 0.16,
    0.15, 0.15,
]
press2_start = "2020-08-12"
press2_am = [
    0.13, 0.10, 0.15, 0.12, 0.16, 0.14, 0.15, 0.13, 0.16, 0.15, 0.14, 0.16, 0.13, 0.15, 0.14, 0.16,
    0.12, 0.15, 0.14, 0.13,
    0.14, 0.12, 0.15, 0.13, 0.11, 0.14, 0.12, 0.13, 0.10, 0.12, 0.09, 0.11, 0.08, 0.10, 0.08,
    0.06, 0.09, 0.04, 0.07, 0.02, 0.05, 0.01, 0.04, 0.06, 0.03, 0.07, 0.05, 0.09, 0.06, 0.08,
    0.07, 0.04, 0.09, 0.06, 0.10, 0.03, 0.08, 0.05, 0.07, 0.02, 0.09, 0.06, 0.04, 0.08, 0.05, 0.10,
    0.03, 0.07, 0.06, 0.11, 0.04, 0.08, 0.05, 0.09, 0.02, 0.06, 0.08, 0.03, 0.07, 0.05, 0.09,
    0.05, 0.08, -0.05, 0.03, 0.07, 0.01, 0.09, 0.04, 0.06, 0.00, 0.08, 0.055, 0.055, -0.06, 0.055,
    0.02, 0.055, 0.055, 0.08, 0.055, 0.055, 0.055, 0.03, 0.055, 0.055, 0.055, 0.055, 0.055, 0.07, 0.055,
    0.055, 0.055, 0.055, 0.055, 0.055, 0.055, 0.04, 0.07, 0.02, 0.05, 0.08, 0.03, 0.06, -0.01, 0.04,
    0.07, 0.01, -0.02, 0.05, 0.10, 0.03, 0.06, 0.00, 0.04, 0.08, 0.02, 0.06, 0.03, 0.09, 0.05, 0.07,
    0.08, 0.05, 0.02, 0.06, 0.03, 0.07, -0.06, 0.01, 0.04, 0.00,
]
press2_pm = [
    0.14, 0.15, 0.14, 0.15, 0.14, 0.15, 0.15, 0.14, 0.15, 0.14, 0.15, 0.15, 0.14, 0.15, 0.14, 0.15,
    0.14, 0.15, 0.15, 0.14,
    0.14, 0.15, 0.13, 0.14, 0.13, 0.15, 0.13, 0.14, 0.12, 0.13, 0.11, 0.12, 0.10, 0.11, 0.09,
    0.08, 0.07, 0.06, 0.05, 0.04, 0.04, 0.03, 0.05, 0.04, 0.06, 0.05, 0.06, 0.07, 0.05, 0.07,
    0.06, 0.07, 0.05, 0.08, 0.06, 0.07, 0.05, 0.06, 0.08, 0.06, 0.05, 0.07, 0.06, 0.08, 0.07, 0.05,
    0.06, 0.08, 0.05, 0.07, 0.06, 0.05, 0.07, 0.06, 0.08, 0.05, 0.07, 0.06, 0.05, 0.07, 0.06,
    0.06, 0.05, 0.07, 0.04, 0.06, 0.05, 0.04, 0.06, 0.05, 0.03, 0.05, 0.055, 0.055, 0.055, 0.055,
    0.055, 0.055, 0.055, 0.055, 0.055, 0.055, 0.055, 0.055, 0.055, 0.055, 0.055, 0.055, 0.055, 0.055, 0.055,
    0.055, 0.055, 0.055, 0.055, 0.055, 0.055, 0.05, 0.04, 0.06, 0.03, 0.05, 0.04, 0.06, 0.02, 0.04,
    0.05, 0.03, 0.06, 0.04, 0.05, 0.03, 0.06, 0.04, 0.05, 0.03, 0.04, 0.06, 0.03, 0.05, 0.04, 0.06,
    0.05, 0.04, 0.06, 0.03, 0.05, 0.02, 0.04, 0.03, 0.01, 0.02,
]

# ---------------- layout geometry (pixels of the 758x762 picture) ----------------
W, H = 758, 762
M_L, M_R, M_T, M_B = 60, 1, 36, 42
PLOT_H = H - M_T - M_B
panel_px = [(61, 185), (240, 363.3), (418, 542), (597, 720)]   # plot area top/bottom
strip_px = [(36, 61), (214, 240), (393, 418), (572, 597)]      # strip top/bottom


def py(px):
    return (H - M_B - px) / PLOT_H


x_range = ["2019-02-27", "2021-03-01"]
y_ranges = [[-2.05, 43.7], [-0.008, 0.781], [-2.58, 1.744], [-0.149, 0.253]]
y_ticks = [[0, 10, 20, 30, 40], [0.0, 0.2, 0.4, 0.6], [-2, -1, 0, 1], [-0.1, 0.0, 0.1, 0.2]]
y_tick_text = [["0", "10", "20", "30", "40"], ["0.0", "0.2", "0.4", "0.6"],
               ["-2", "-1", "0", "1"], ["-0.1", "0.0", "0.1", "0.2"]]
y_minor = [[5, 15, 25, 35], [0.1, 0.3, 0.5, 0.7], [-2.5, -1.5, -0.5, 0.5, 1.5],
           [-0.05, 0.05, 0.15, 0.25]]

fills = ["rgba(248,118,109,0.55)", "rgba(124,174,0,0.55)", "rgba(0,191,196,0.55)",
         "rgba(199,124,255,0.55)"]

series = [
    [(tce_start, tce_am, tce_pm)],
    [(radon_start, radon_am, radon_pm)],
    [(temp_start, temp_am, temp_pm)],
    [(press1_start, press1_am, press1_pm), (press2_start, press2_am, press2_pm)],
]

FONT = "Liberation Sans, Arial, Helvetica, sans-serif"
fig = go.Figure()

for i, segs in enumerate(series):
    n = i + 1
    xa = "x" if n == 1 else f"x{n}"
    ya = "y" if n == 1 else f"y{n}"
    lo, hi = y_ranges[i]
    # shaded sampling period (drawn first so it sits above the grid, below the points)
    fig.add_trace(go.Scatter(
        x=[shade_start, shade_start, shade_end, shade_end, shade_start],
        y=[lo, hi, hi, lo, lo], mode="lines", fill="toself",
        fillcolor="rgba(255,255,0,0.5)", line=dict(width=0),
        xaxis=xa, yaxis=ya, showlegend=False, hoverinfo="skip",
    ))
    for start, am, pm in segs:
        for vals, hour in ((pm, 18), (am, 6)):
            dates = pd.date_range(start, periods=len(vals), freq="D") + pd.Timedelta(hours=hour)
            fig.add_trace(go.Scatter(
                x=dates, y=vals, mode="markers", xaxis=xa, yaxis=ya, showlegend=False,
                hoverinfo="skip",
                marker=dict(size=4.8, color=fills[i],
                            line=dict(color="rgba(0,0,0,0.65)", width=0.9)),
            ))

layout = dict(
    width=W, height=H, margin=dict(l=M_L, r=M_R, t=M_T, b=M_B),
    paper_bgcolor="white", plot_bgcolor="white",
    font=dict(family=FONT, color="#4D4D4D"),
    title=dict(text=title_text, x=M_L / W, xanchor="left", xref="container",
               y=1 - 17 / H, yanchor="middle", yref="container",
               font=dict(size=18, color="black", family=FONT)),
)

shapes = []
annotations = []
for i in range(4):
    n = i + 1
    xk = "xaxis" if n == 1 else f"xaxis{n}"
    yk = "yaxis" if n == 1 else f"yaxis{n}"
    ya = "y" if n == 1 else f"y{n}"
    xa = "x" if n == 1 else f"x{n}"
    top, bot = panel_px[i]
    layout[xk] = dict(
        type="date", range=x_range, domain=[0, 1], anchor=ya,
        tickvals=x_tick_vals, ticktext=x_tick_text,
        showgrid=True, gridcolor="#EBEBEB", gridwidth=1.1,
        minor=dict(tickvals=x_minor_vals, showgrid=True, gridcolor="#F0F0F0",
                   gridwidth=0.6, ticks=""),
        ticks="outside", ticklen=3, tickwidth=1, tickcolor="#333333",
        showline=True, linecolor="#333333", linewidth=1, mirror=True, zeroline=False,
        tickfont=dict(size=13, color="#4D4D4D", family=FONT),
    )
    layout[yk] = dict(
        range=y_ranges[i], domain=[py(bot), py(top)], anchor=xa,
        tickvals=y_ticks[i], ticktext=y_tick_text[i],
        showgrid=True, gridcolor="#EBEBEB", gridwidth=1.1,
        minor=dict(tickvals=y_minor[i], showgrid=True, gridcolor="#F0F0F0",
                   gridwidth=0.6, ticks=""),
        ticks="outside", ticklen=3, tickwidth=1, tickcolor="#333333",
        showline=True, linecolor="#333333", linewidth=1, mirror=True, zeroline=False,
        tickfont=dict(size=13, color="#4D4D4D", family=FONT),
    )
    for xv in (shade_start, shade_end):
        shapes.append(dict(type="line", xref=xa, yref=f"{ya} domain", x0=xv, x1=xv,
                           y0=0, y1=1, line=dict(color="black", width=1.6), layer="above"))
    # facet strip
    st, sb = strip_px[i]
    shapes.append(dict(type="rect", xref="paper", yref="paper", x0=0, x1=1,
                       y0=py(sb), y1=py(st), fillcolor="#D9D9D9",
                       line=dict(color="#333333", width=1), layer="above"))
    annotations.append(dict(text=panel_titles[i], xref="paper", yref="paper", x=0.5,
                            y=py((st + sb) / 2), showarrow=False, xanchor="center",
                            yanchor="middle",
                            font=dict(size=13, color="#1A1A1A", family=FONT, weight="bold")))

annotations.append(dict(text="6 hour average value", xref="paper", yref="paper",
                        x=(18 - M_L) / (W - M_L - M_R), y=py(390), textangle=-90,
                        showarrow=False, xanchor="center", yanchor="middle",
                        font=dict(size=16, color="black", family=FONT, weight="bold")))
annotations.append(dict(text="Sample collection date-time", xref="paper", yref="paper",
                        x=(410 - M_L) / (W - M_L - M_R), y=py(751), showarrow=False,
                        xanchor="center", yanchor="middle",
                        font=dict(size=16, color="black", family=FONT, weight="bold")))

layout["shapes"] = shapes
layout["annotations"] = annotations
fig.update_layout(**layout)
fig.write_html("out.html", config={"displayModeBar": False},
               post_script="document.body.style.margin='0';")
